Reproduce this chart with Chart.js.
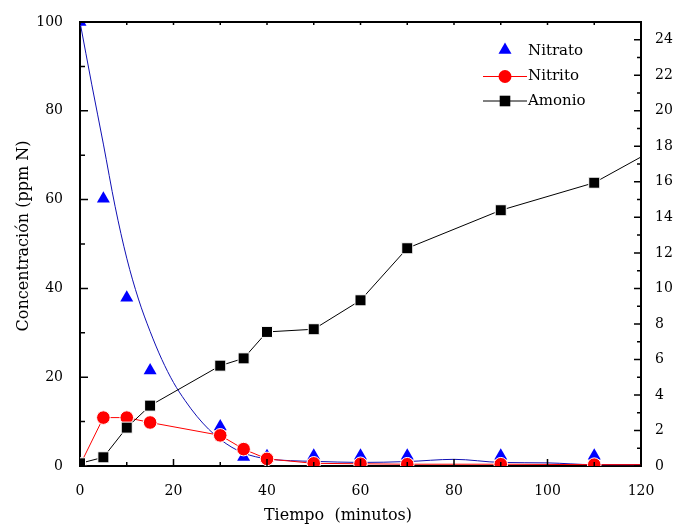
<!DOCTYPE html>
<html lang="es">
<head>
<meta charset="UTF-8" />
<title>Concentración vs Tiempo</title>
<script src="https://cdn.jsdelivr.net/npm/chart.js@4.4.0/dist/chart.umd.min.js"></script>
<style>
  body { margin: 0; background: #fff; }
  #wrap { width: 675px; height: 527px; }
</style>
</head>
<body>
<div id="wrap"><canvas id="myChart" width="675" height="527"></canvas></div>
<script>
// tiempos de muestreo (minutos)
const tiempos = [0, 5, 10, 15, 30, 35, 40, 50, 60, 70, 90, 110, 120];
// nitrato, ppm N (eje izquierdo) - sin punto en 120
const nitrato = [100, 60.2, 37.9, 21.5, 8.9, 2.0, 2.2, 2.3, 2.3, 2.3, 2.3, 2.3];
// nitrito, ppm N (eje izquierdo)
const nitrito = [0.2, 10.9, 10.9, 9.8, 6.9, 3.8, 1.6, 0.6, 0.5, 0.4, 0.4, 0.3, 0.3];
// amonio, ppm N (eje derecho)
const amonio = [0.15, 0.49, 2.16, 3.4, 5.65, 6.06, 7.55, 7.7, 9.33, 12.26, 14.4, 15.95, 17.4];
// curva de ajuste del nitrato
const ajusteT = [0, 2.5, 5, 7.5, 10, 12.5, 15, 17.5, 20, 22.5, 25, 27.5, 30, 32.5, 35, 37.5, 40, 45, 50, 60, 70, 80, 90, 100, 110, 120];
const ajusteV = [100, 86, 72.5, 58.5, 46.8, 37.6, 30.3, 24, 18.8, 14.7, 11.2, 8.3, 6, 4.2, 2.9, 2.1, 1.6, 1.2, 1.05, 0.8, 1.0, 1.5, 0.8, 0.7, 0.3, 0.3];

const FONT = "'DejaVu Serif', serif";

function pts(xs, ys) {
  return ys.map((y, i) => ({ x: xs[i], y: y }));
}
// último punto (x=120) sin marcador
const lastHidden = (r, n) => Array.from({ length: n }, (_, i) => (i === n - 1 ? 0 : r));

const innerTicks = {
  id: 'innerTicks',
  afterDraw(chart) {
    const { ctx, chartArea: a, scales } = chart;
    ctx.save();
    ctx.strokeStyle = '#000';
    // marco superior
    ctx.beginPath();
    ctx.moveTo(a.left, a.top);
    ctx.lineTo(a.right, a.top);
    ctx.lineWidth = 2;
    ctx.stroke();
    ctx.lineWidth = 1.5;
    ctx.beginPath();
    for (let v = 0; v <= 120; v += 10) {
      const px = scales.x.getPixelForValue(v);
      const len = v % 20 === 0 ? 7 : 4;
      ctx.moveTo(px, a.bottom); ctx.lineTo(px, a.bottom - len);
      ctx.moveTo(px, a.top); ctx.lineTo(px, a.top + 3);
    }
    for (let v = 0; v <= 100; v += 10) {
      const py = scales.y.getPixelForValue(v);
      const len = v % 20 === 0 ? 8 : 5;
      ctx.moveTo(a.left, py); ctx.lineTo(a.left + len, py);
    }
    for (let v = 0; v <= 25; v += 1) {
      const py = scales.y2.getPixelForValue(v);
      const len = v % 2 === 0 ? 7 : 4;
      ctx.moveTo(a.right, py); ctx.lineTo(a.right - len, py);
    }
    ctx.stroke();

    // títulos de los ejes
    ctx.fillStyle = '#000';
    ctx.font = '16px ' + FONT;
    ctx.textAlign = 'center';
    ctx.textBaseline = 'middle';
    ctx.fillText('Tiempo  (minutos)', 338, 516);
    ctx.translate(24, 236);
    ctx.rotate(-Math.PI / 2);
    ctx.fillText('Concentración (ppm N)', 0, 0);
    ctx.restore();

    // leyenda
    ctx.save();
    const items = [
      { text: 'Nitrato', color: '#0000ff', style: 'triangle', r: 7.5, line: false, y: 51 },
      { text: 'Nitrito', color: '#ff0000', style: 'circle', r: 6.5, line: true, y: 76.5 },
      { text: 'Amonio', color: '#000000', style: 'rect', r: 7.5, line: true, y: 101 }
    ];
    ctx.font = '15px ' + FONT;
    ctx.textAlign = 'left';
    ctx.textBaseline = 'middle';
    items.forEach(it => {
      if (it.line) {
        ctx.strokeStyle = it.color;
        ctx.lineWidth = 1;
        ctx.beginPath();
        ctx.moveTo(483, it.y); ctx.lineTo(527, it.y);
        ctx.stroke();
      }
      ctx.fillStyle = it.color;
      Chart.helpers.drawPoint(ctx, { pointStyle: it.style, radius: it.r, rotation: 0, borderWidth: 0 },
        505, it.style === 'triangle' ? it.y - 1 : it.y);
      ctx.fillStyle = '#000';
      ctx.fillText(it.text, 528, it.y);
    });
    ctx.restore();
  }
};

const ctx = document.getElementById('myChart').getContext('2d');
new Chart(ctx, {
  type: 'scatter',
  data: {
    datasets: [
      {
        label: 'Amonio',
        data: pts(tiempos, amonio),
        yAxisID: 'y2',
        showLine: true,
        borderColor: '#000',
        borderWidth: 1,
        backgroundColor: '#000',
        pointStyle: 'rect',
        pointRadius: lastHidden(7.8, amonio.length),
        pointBorderColor: '#fff',
        pointBorderWidth: 1,
        order: 1
      },
      {
        label: 'Nitrito',
        data: pts(tiempos, nitrito),
        yAxisID: 'y',
        showLine: true,
        borderColor: '#ff0000',
        borderWidth: 1,
        backgroundColor: '#ff0000',
        pointStyle: 'circle',
        pointRadius: lastHidden(6.8, nitrito.length),
        pointBorderColor: '#fff',
        pointBorderWidth: 1,
        order: 2
      },
      {
        label: 'Nitrato',
        data: pts(tiempos, nitrato),
        yAxisID: 'y',
        showLine: false,
        backgroundColor: '#0000ff',
        borderColor: '#0000ff',
        pointStyle: 'triangle',
        pointRadius: 7.5,
        pointBorderWidth: 0,
        order: 3
      },
      {
        label: 'Ajuste',
        data: pts(ajusteT, ajusteV),
        yAxisID: 'y',
        showLine: true,
        borderColor: '#1010b4',
        borderWidth: 1,
        pointRadius: 0,
        cubicInterpolationMode: 'monotone',
        order: 4
      }
    ]
  },
  options: {
    responsive: false,
    animation: false,
    layout: { padding: { top: 22, left: 0, right: 0, bottom: 0 } },
    plugins: { legend: { display: false }, tooltip: { enabled: false } },
    scales: {
      x: {
        type: 'linear',
        min: 0, max: 120,
        grid: { display: false },
        border: { color: '#000', width: 2 },
        ticks: { stepSize: 20, color: '#000', font: { family: FONT, size: 14 }, padding: 9 },
        afterFit(s) { s.height = 61; }
      },
      y: {
        position: 'left',
        min: 0, max: 100,
        grid: { display: false },
        border: { color: '#000', width: 2 },
        ticks: { stepSize: 20, color: '#000', font: { family: FONT, size: 14 }, padding: 9 },
        afterFit(s) { s.width = 80; }
      },
      y2: {
        position: 'right',
        min: 0, max: 25,
        grid: { display: false },
        border: { color: '#000', width: 2 },
        ticks: { stepSize: 2, includeBounds: false, color: '#000', font: { family: FONT, size: 14 }, padding: 6 },
        afterFit(s) { s.width = 34; }
      }
    }
  },
  plugins: [innerTicks]
});
</script>
</body>
</html>
